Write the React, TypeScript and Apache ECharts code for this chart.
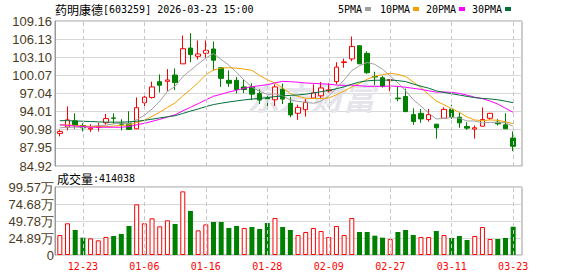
import React, { useEffect, useRef } from 'react';
import * as echarts from 'echarts';

const dates = [
  '12-18', '12-19', '12-22', '12-23', '12-24', '12-25', '12-26', '12-29', '12-30', '12-31',
  '01-05', '01-06', '01-07', '01-08', '01-09', '01-12', '01-13', '01-14', '01-15', '01-16',
  '01-19', '01-20', '01-21', '01-22', '01-23', '01-26', '01-27', '01-28', '01-29', '01-30',
  '02-02', '02-03', '02-04', '02-05', '02-06', '02-09', '02-10', '02-11', '02-12', '02-13',
  '02-24', '02-25', '02-26', '02-27', '03-02', '03-03', '03-04', '03-05', '03-06', '03-09',
  '03-10', '03-11', '03-12', '03-13', '03-16', '03-17', '03-18', '03-19', '03-20', '03-23',
];
const tickLabels = ['12-23', '01-06', '01-16', '01-28', '02-09', '02-27', '03-11', '03-23'];

const opens = [
  90.37, 91.42, 92.46, 91.69, 91.09, 91.36, 92.13, 92.96, 92.02, 91.97,
  91.14, 95.5, 96.38, 99.02, 99.08, 100.12, 102.0, 104.64, 103.26, 103.76,
  104.48, 101.34, 99.24, 99.24, 98.14, 98.14, 97.04, 96.27, 95.99, 97.75,
  95.39, 93.73, 94.34, 96.27, 96.65, 97.48, 99.02, 102.22, 102.82, 105.03,
  103.76, 99.9, 99.68, 99.2, 96.27, 96.54, 93.51, 93.73, 92.68, 91.91,
  92.9, 94.45, 93.07, 91.53, 91.09, 91.58, 92.9, 92.24, 91.8, 89.6,
];
const closes = [
  90.7, 92.63, 91.69, 91.31, 91.25, 91.53, 92.85, 92.9, 91.91, 91.03,
  94.67, 96.43, 98.14, 98.42, 99.3, 98.86, 104.53, 103.54, 103.65, 104.26,
  102.6, 99.57, 98.75, 97.7, 97.7, 96.93, 95.94, 96.16, 98.14, 96.1,
  93.46, 94.72, 95.55, 97.15, 97.97, 97.64, 101.45, 102.33, 104.92, 102.0,
  100.51, 99.79, 98.2, 99.35, 96.16, 94.01, 92.35, 92.79, 93.51, 91.31,
  94.39, 93.18, 92.13, 91.25, 91.31, 92.68, 93.73, 91.97, 91.14, 88.22,
];
const lows = [
  89.87, 90.87, 91.14, 90.7, 90.64, 90.7, 91.86, 91.97, 90.87, 91.03,
  91.14, 94.28, 96.21, 97.2, 97.48, 97.64, 102.0, 102.27, 102.71, 102.99,
  100.9, 98.14, 98.14, 97.04, 97.09, 95.94, 95.28, 94.94, 94.94, 95.28,
  93.07, 92.63, 93.18, 96.21, 96.1, 97.2, 98.58, 101.34, 102.44, 102.0,
  100.34, 98.47, 98.03, 97.4, 95.72, 93.96, 91.8, 92.13, 92.35, 89.49,
  92.85, 92.79, 91.31, 90.98, 89.49, 91.53, 92.63, 91.69, 91.14, 87.4,
];
const highs = [
  90.98, 94.89, 93.73, 92.08, 91.91, 92.13, 93.62, 93.73, 92.74, 94.07,
  96.38, 96.76, 99.02, 100.23, 101.12, 101.23, 106.74, 107.12, 105.91, 105.91,
  105.74, 101.45, 100.9, 99.79, 99.46, 98.75, 97.75, 96.93, 98.58, 98.69,
  96.49, 95.17, 96.1, 98.58, 98.97, 98.8, 102.27, 102.88, 106.57, 105.03,
  104.09, 100.68, 99.96, 99.4, 98.31, 97.86, 94.56, 94.45, 94.45, 91.97,
  94.72, 95.17, 93.84, 92.24, 91.69, 94.72, 93.79, 92.79, 93.73, 90.7,
];

const ma5 = [
  91.3, 91.4, 91.4, 91.4, 91.52, 91.68, 91.73, 91.97, 92.09, 92.04,
  92.67, 93.39, 94.44, 95.74, 97.39, 98.23, 99.85, 100.93, 101.98, 102.97,
  103.72, 102.72, 101.77, 100.58, 99.26, 98.13, 97.4, 96.89, 96.97, 96.65,
  95.96, 95.72, 95.59, 95.4, 95.77, 96.61, 97.95, 99.31, 100.86, 101.67,
  102.24, 101.91, 101.08, 99.97, 98.8, 97.5, 96.0, 94.93, 93.76, 92.79,
  92.87, 93.04, 92.9, 92.45, 92.45, 92.11, 92.22, 92.19, 92.17, 91.55,
];
const ma10 = [
  91.8, 91.8, 91.7, 91.6, 91.55, 91.5, 91.5, 91.6, 91.7, 91.78,
  92.18, 92.56, 93.2, 93.91, 94.72, 95.45, 96.62, 97.68, 98.86, 100.18,
  100.97, 101.29, 101.35, 101.28, 101.12, 100.92, 100.06, 99.33, 98.78, 97.96,
  97.05, 96.56, 96.24, 96.19, 96.21, 96.28, 96.83, 97.45, 98.13, 98.72,
  99.42, 99.93, 100.2, 100.41, 100.23, 99.87, 98.96, 98.01, 96.87, 95.78,
  95.16, 94.5, 93.9, 93.11, 92.62, 92.49, 92.63, 92.55, 92.31, 92.0,
];
const ma20 = [
  91.8, 91.7, 91.6, 91.5, 91.4, 91.4, 91.4, 91.4, 91.4, 91.5,
  91.8, 92.05, 92.38, 92.72, 93.11, 93.48, 94.13, 94.73, 95.34, 95.98,
  96.58, 96.92, 97.28, 97.59, 97.92, 98.19, 98.34, 98.5, 98.82, 99.07,
  99.01, 98.92, 98.79, 98.73, 98.66, 98.6, 98.45, 98.39, 98.45, 98.34,
  98.23, 98.25, 98.22, 98.3, 98.22, 98.08, 97.9, 97.73, 97.5, 97.26,
  97.3, 97.23, 97.06, 96.76, 96.42, 96.17, 95.78, 95.27, 94.58, 93.89,
];
const ma30 = [
  92.5, 92.5, 92.45, 92.4, 92.35, 92.3, 92.25, 92.25, 92.25, 92.3,
  92.4, 92.55, 92.75, 92.95, 93.15, 93.33, 93.7, 94.1, 94.45, 94.85,
  95.19, 95.42, 95.62, 95.8, 95.97, 96.11, 96.22, 96.35, 96.52, 96.64,
  96.73, 96.8, 96.93, 97.12, 97.35, 97.55, 97.84, 98.15, 98.59, 98.95,
  99.15, 99.26, 99.26, 99.3, 99.19, 99.03, 98.62, 98.26, 97.93, 97.48,
  97.21, 97.0, 96.78, 96.56, 96.35, 96.21, 96.13, 95.99, 95.76, 95.5,
];

// volume in 万
const volumes = [
  29.3, 46.4, 36.6, 25.4, 24.4, 21.5, 26.4, 27.8, 30.8, 42.5,
  74.2, 46.4, 53.7, 42.0, 50.8, 45.4, 93.2, 64.4, 36.1, 44.9,
  48.3, 48.3, 39.5, 42.5, 39.5, 41.0, 38.1, 46.9, 54.2, 41.0,
  36.6, 29.3, 33.7, 39.5, 35.1, 26.4, 42.5, 29.3, 54.2, 33.7,
  33.7, 28.3, 25.4, 23.4, 33.7, 36.6, 29.3, 26.4, 26.4, 35.1,
  29.3, 24.9, 27.8, 22.0, 27.8, 41.0, 23.4, 23.4, 24.9, 41.4038,
];
// 1 = red (up), 0 = green (down)
const volumeUp = [
  1, 1, 0, 0, 1, 1, 1, 0, 0, 0,
  1, 1, 1, 1, 1, 0, 1, 0, 1, 1,
  0, 0, 0, 0, 1, 0, 0, 0, 1, 0,
  0, 1, 1, 1, 1, 1, 1, 1, 1, 0,
  0, 0, 0, 1, 0, 0, 0, 1, 1, 0,
  1, 0, 0, 0, 1, 1, 1, 0, 0, 0,
];

const priceTicks = [84.92, 87.95, 90.98, 94.01, 97.04, 100.07, 103.1, 106.13, 109.16];
const volumeTicks = [0, 24.8925, 49.785, 74.6775, 99.57];
const volumeTickLabels = ['0', '24.89万', '49.78万', '74.68万', '99.57万'];

const legendNames = ['5PMA', '10PMA', '20PMA', '30PMA'];
const maColors = ['#a0a0a0', '#f4a100', '#ff00ff', '#00703a'];

const SANS = "'Liberation Sans', Arial, sans-serif";
const CJK = "'Noto Sans CJK SC', sans-serif";
const MONO = "'DejaVu Sans Mono', 'Liberation Mono', monospace";
const UP = '#ff0000';
const DOWN = '#008000';
const LABEL = '#4a3a22';

export default function App() {
  const ref = useRef<HTMLDivElement>(null);

  useEffect(() => {
    const chart = echarts.init(ref.current as HTMLDivElement, null, { renderer: 'svg' });
    const priceInterval = +(priceTicks[1] - priceTicks[0]).toFixed(2);
    const dashed = {
      silent: true,
      symbol: ['none', 'none'],
      label: { show: false },
      lineStyle: { color: '#c8c8c8', type: [4, 3], width: 1 },
      emphasis: { disabled: true },
      animation: false,
      data: tickLabels.map((d) => ({ xAxis: d })),
    };
    const legendX = [338, 380, 426, 472];
    const legendW = [24, 30, 30, 30];

    const option: any = {
      animation: false,
      backgroundColor: '#ffffff',
      grid: [
        { left: 55, top: 21, width: 467, height: 145, show: true, borderColor: '#9a9a9a', borderWidth: 1, backgroundColor: 'transparent', outerBoundsMode: 'none', containLabel: false },
        { left: 55, top: 187, width: 467, height: 68, show: true, borderColor: '#9a9a9a', borderWidth: 1, backgroundColor: 'transparent', outerBoundsMode: 'none', containLabel: false },
        { left: 56, top: 21, width: 461, height: 145, outerBoundsMode: 'none', containLabel: false },
        { left: 56, top: 187, width: 461, height: 68, outerBoundsMode: 'none', containLabel: false },
      ],
      xAxis: [
        { gridIndex: 0, type: 'category', data: dates, show: false },
        { gridIndex: 1, type: 'category', data: dates, show: false },
        {
          gridIndex: 2, type: 'category', data: dates, boundaryGap: true,
          axisLine: { show: false }, axisTick: { show: false }, axisLabel: { show: false }, splitLine: { show: false },
        },
        {
          gridIndex: 3, type: 'category', data: dates, boundaryGap: true,
          axisLine: { show: false }, axisTick: { show: false }, splitLine: { show: false },
          axisLabel: {
            interval: (_i: number, v: string) => tickLabels.includes(v),
            color: UP, fontFamily: MONO, fontSize: 10, margin: 6,
          },
        },
      ],
      yAxis: [
        {
          gridIndex: 0, type: 'value', min: priceTicks[0], max: priceTicks[priceTicks.length - 1], interval: priceInterval,
          axisLine: { show: true, lineStyle: { color: '#9a9a9a' } }, axisTick: { show: false },
          axisLabel: { formatter: (v: number) => v.toFixed(2), color: LABEL, fontFamily: SANS, fontSize: 13, margin: 3 },
          splitLine: { show: true, lineStyle: { color: '#d8d8d8', width: 1 } },
        },
        {
          gridIndex: 1, type: 'value', min: volumeTicks[0], max: volumeTicks[volumeTicks.length - 1], interval: volumeTicks[1],
          axisLine: { show: true, lineStyle: { color: '#9a9a9a' } }, axisTick: { show: false },
          axisLabel: { formatter: (_v: number, i: number) => volumeTickLabels[i], color: LABEL, fontFamily: SANS, fontSize: 13, margin: 1 },
          splitLine: { show: true, lineStyle: { color: '#d8d8d8', width: 1 } },
        },
        { gridIndex: 2, type: 'value', min: priceTicks[0], max: priceTicks[priceTicks.length - 1], show: false, splitLine: { show: false } },
        { gridIndex: 3, type: 'value', min: volumeTicks[0], max: volumeTicks[volumeTicks.length - 1], show: false, splitLine: { show: false } },
      ],
      graphic: [
        {
          type: 'text', x: 247, y: 96, z: 1, silent: true,
          style: {
            text: '东方财富', fontSize: 32, fontWeight: 'bold', fontStyle: 'italic', fontFamily: CJK,
            fill: '#e4e4ea', verticalAlign: 'middle',
          },
        },
        {
          type: 'text', x: 55, y: 9, silent: true,
          style: {
            text: '{a|药明康德}{b|[603259] 2026-03-23 15:00}',
            verticalAlign: 'middle',
            rich: {
              a: { fontFamily: CJK, fontSize: 12, fill: '#000' },
              b: { fontFamily: MONO, fontSize: 10, fill: '#000' },
            },
          },
        },
        {
          type: 'text', x: 57, y: 178, silent: true,
          style: {
            text: '{a|成交量}{b|:414038}',
            verticalAlign: 'middle',
            rich: {
              a: { fontFamily: CJK, fontSize: 12, fill: '#000' },
              b: { fontFamily: MONO, fontSize: 10, fill: '#000' },
            },
          },
        },
        ...legendNames.map((n, k) => ({
          type: 'text', x: legendX[k], y: 9, silent: true,
          style: { text: n, fontFamily: MONO, fontSize: 10, fill: '#000', verticalAlign: 'middle' },
        })),
        ...legendNames.map((_n, k) => ({
          type: 'rect', silent: true,
          shape: { x: legendX[k] + legendW[k] + 3, y: 7, width: 6, height: 4 },
          style: { fill: maColors[k] },
        })),
      ],
      series: [
        {
          type: 'candlestick', name: 'K', xAxisIndex: 2, yAxisIndex: 2, silent: true, z: 3,
          barWidth: 5,
          data: dates.map((_d, i) => [opens[i], closes[i], lows[i], highs[i]]),
          itemStyle: { color: '#ffffff', color0: DOWN, borderColor: UP, borderColor0: DOWN, borderWidth: 1 },
          markLine: dashed,
        },
        ...[ma5, ma10, ma20, ma30].map((arr, k) => ({
          type: 'line', name: legendNames[k], xAxisIndex: 2, yAxisIndex: 2, silent: true, z: 4,
          data: arr, symbol: 'none', showSymbol: false,
          lineStyle: { color: maColors[k], width: 1 },
        })),
        {
          type: 'bar', name: 'VOL', xAxisIndex: 3, yAxisIndex: 3, silent: true, barWidth: 5, z: 3,
          data: volumes.map((v, i) => ({
            value: v,
            itemStyle: volumeUp[i]
              ? { color: '#ffffff', borderColor: UP, borderWidth: 1 }
              : { color: DOWN, borderColor: DOWN, borderWidth: 0 },
          })),
          markLine: dashed,
        },
      ],
    };
    chart.setOption(option);
    return () => chart.dispose();
  }, []);

  return <div ref={ref} style={{ position: 'fixed', left: 0, top: 0, width: 578, height: 276 }} />;
}
